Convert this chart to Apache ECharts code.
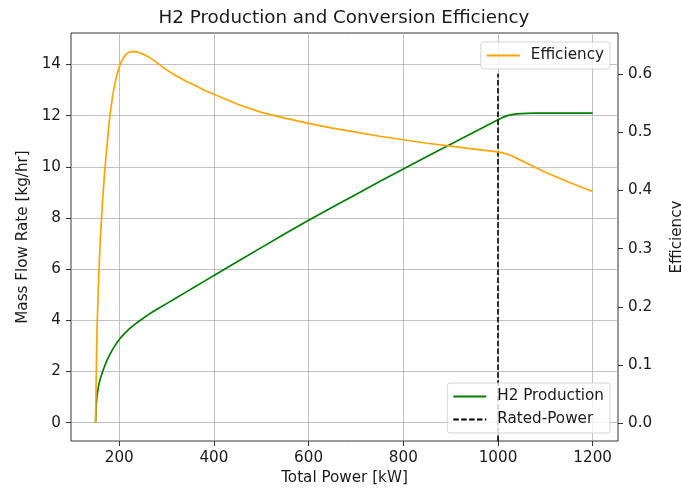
<!DOCTYPE html>
<html>
<head>
<meta charset="utf-8">
<script src="https://cdn.jsdelivr.net/npm/echarts@6/dist/echarts.min.js"></script>
<style>
  html, body { margin: 0; padding: 0; background: #ffffff; }
  #chart { width: 681px; height: 488px; }
</style>
</head>
<body>
<div id="chart"></div>
<script>
// Electrolyser operating sweep: total input power [kW]
const powerKW = [150, 151, 153, 157, 160, 165, 170, 175, 180, 186, 190, 195, 200, 205, 210, 215,
  220, 225, 230, 235, 240, 250, 260, 270, 285, 300, 320, 340, 360, 380, 400, 450, 500, 550, 600,
  650, 700, 750, 800, 850, 900, 950, 1000, 1010, 1020, 1030, 1040, 1060, 1080, 1100, 1150, 1200];

// Hydrogen mass flow [kg/hr]
const h2Production = [0, 0.6, 1.05, 1.5, 1.72, 2.0, 2.25, 2.47, 2.66, 2.86, 2.98, 3.12, 3.25, 3.36,
  3.46, 3.55, 3.64, 3.72, 3.8, 3.87, 3.94, 4.07, 4.2, 4.32, 4.49, 4.65, 4.87, 5.09, 5.31, 5.53, 5.75,
  6.3, 6.84, 7.38, 7.91, 8.42, 8.92, 9.42, 9.91, 10.4, 10.88, 11.36, 11.84, 11.93, 12.0, 12.04,
  12.07, 12.09, 12.1, 12.1, 12.1, 12.1];

// Conversion efficiency [-]
const efficiency = [0, 0.06, 0.16, 0.26, 0.315, 0.385, 0.44, 0.485, 0.527, 0.562, 0.58, 0.598,
  0.612, 0.622, 0.629, 0.634, 0.637, 0.638, 0.6385, 0.638, 0.637, 0.634, 0.63, 0.625, 0.616, 0.607,
  0.597, 0.588, 0.58, 0.572, 0.565, 0.548, 0.534, 0.524, 0.515, 0.507, 0.5, 0.493, 0.487, 0.481,
  0.476, 0.471, 0.466, 0.4645, 0.462, 0.459, 0.455, 0.447, 0.439, 0.431, 0.414, 0.398];

const ratedPower = 1000;

// Tick labels
const powerTicks = [200, 400, 600, 800, 1000, 1200];
const flowTicks = [0, 2, 4, 6, 8, 10, 12, 14];
const effTicks = [0, 0.1, 0.2, 0.3, 0.4, 0.5, 0.6];

// Axis extents
const powerMin = 98.1, powerMax = 1253.5;
const flowMin = -0.72, flowMax = 15.23;
const effMin = -0.0304, effMax = 0.6703;

const FONT = 'DejaVu Sans';
const TXT = '#1a1a1a';
const FS = 15.2;

const h2Data = powerKW.map((p, i) => [p, h2Production[i]]);
const effData = powerKW.map((p, i) => [p, efficiency[i]]);
// vertical marker from the bottom of the frame up to 90% of its height
const ratedData = [[ratedPower, flowMin], [ratedPower, flowMin + 0.9 * (flowMax - flowMin)]];

const tickStyle = { show: true, inside: false, length: 5, lineStyle: { color: '#000', width: 0.8 } };
const labelStyle = { color: TXT, fontSize: FS, fontFamily: FONT, margin: 10 };
const hiddenLine = { show: false, onZero: false };
const nameStyle = { color: TXT, fontSize: FS, fontFamily: FONT };

const legendBox = {
  backgroundColor: 'rgba(255,255,255,0.8)',
  borderColor: 'rgba(204,204,204,0.8)',
  borderWidth: 1,
  borderRadius: 3,
  itemWidth: 33,
  itemHeight: 14,
  itemStyle: { opacity: 0 },
  textStyle: { color: TXT, fontSize: FS, fontFamily: FONT, padding: [0, 0, 0, 6] }
};

const chart = echarts.init(document.getElementById('chart'), null, { renderer: 'canvas' });

chart.setOption({
  animation: false,
  backgroundColor: '#ffffff',
  title: {
    text: 'H2 Production and Conversion Efficiency',
    left: 344,
    textAlign: 'center',
    top: 9,
    padding: 0,
    textStyle: { color: TXT, fontSize: 18.3, fontWeight: 'normal', fontFamily: FONT }
  },
  grid: {
    left: 71, right: 63, top: 33, bottom: 47,
    outerBoundsMode: 'none',
    containLabel: false,
    show: true, borderColor: '#000', borderWidth: 0.8, backgroundColor: 'transparent'
  },
  legend: [
    Object.assign({}, legendBox, {
      data: ['Efficiency'],
      right: 71, top: 42,
      padding: [6, 6, 6, 5]
    }),
    Object.assign({}, legendBox, {
      data: ['H2 Production', 'Rated-Power'],
      orient: 'vertical',
      itemGap: 8,
      right: 71, bottom: 55,
      padding: [6, 6, 6, 5]
    })
  ],
  xAxis: {
    type: 'value',
    min: powerMin, max: powerMax,
    splitNumber: 6,
    axisLine: hiddenLine,
    axisTick: Object.assign({}, tickStyle, { customValues: powerTicks }),
    axisLabel: Object.assign({}, labelStyle, { customValues: powerTicks, formatter: v => String(v) }),
    splitLine: { show: true, lineStyle: { color: '#b0b0b0', width: 0.8 } },
    name: 'Total Power [kW]',
    nameLocation: 'middle',
    nameGap: 30,
    nameTextStyle: nameStyle
  },
  yAxis: [
    {
      type: 'value',
      position: 'left',
      min: flowMin, max: flowMax,
      splitNumber: 8,
      axisLine: hiddenLine,
      axisTick: Object.assign({}, tickStyle, { customValues: flowTicks }),
      axisLabel: Object.assign({}, labelStyle, { customValues: flowTicks, formatter: v => String(v) }),
      splitLine: { show: true, lineStyle: { color: '#b0b0b0', width: 0.8 } },
      name: 'Mass Flow Rate [kg/hr]',
      nameLocation: 'middle',
      nameRotate: 90,
      nameGap: 40,
      nameTextStyle: nameStyle
    },
    {
      type: 'value',
      position: 'right',
      min: effMin, max: effMax,
      splitNumber: 7,
      axisLine: hiddenLine,
      axisTick: Object.assign({}, tickStyle, { customValues: effTicks }),
      axisLabel: Object.assign({}, labelStyle, { customValues: effTicks, formatter: v => v.toFixed(1) }),
      splitLine: { show: false },
      name: 'Efficiency',
      nameLocation: 'middle',
      nameRotate: 90,
      nameGap: 52,
      nameTextStyle: nameStyle
    }
  ],
  series: [
    {
      name: 'H2 Production',
      type: 'line',
      xAxisIndex: 0, yAxisIndex: 0,
      data: h2Data,
      symbol: 'none',
      smooth: false,
      color: '#008000',
      lineStyle: { color: '#008000', width: 1.7, join: 'round' },
      z: 2
    },
    {
      name: 'Rated-Power',
      type: 'line',
      xAxisIndex: 0, yAxisIndex: 0,
      data: ratedData,
      symbol: 'none',
      color: '#000000',
      lineStyle: { color: '#000000', width: 1.6, type: [5.5, 2.4] },
      z: 2
    },
    {
      name: 'Efficiency',
      type: 'line',
      xAxisIndex: 0, yAxisIndex: 1,
      data: effData,
      symbol: 'none',
      smooth: false,
      color: '#ffa500',
      lineStyle: { color: '#ffa500', width: 1.7, join: 'round' },
      z: 3
    }
  ]
});
</script>
</body>
</html>
